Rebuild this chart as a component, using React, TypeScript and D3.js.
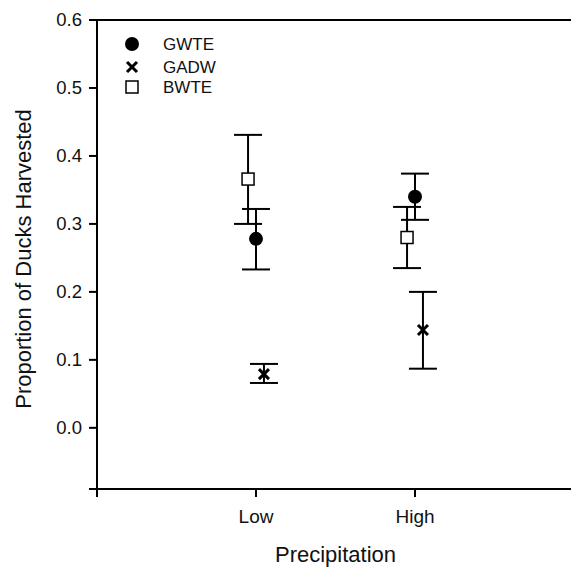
import React from "react";
import * as d3 from "d3";

const categories = ["Low", "High"];
const species = ["GWTE", "GADW", "BWTE"];
const gwteMean = [0.278, 0.340];
const gwteLower = [0.233, 0.306];
const gwteUpper = [0.322, 0.374];
const gadwMean = [0.079, 0.144];
const gadwLower = [0.066, 0.087];
const gadwUpper = [0.094, 0.200];
const bwteMean = [0.366, 0.280];
const bwteLower = [0.300, 0.235];
const bwteUpper = [0.431, 0.325];
const yTicks = [0.0, 0.1, 0.2, 0.3, 0.4, 0.5, 0.6];

const W = 571;
const H = 567;
const FONT = "'Liberation Sans', Arial, Helvetica, sans-serif";

export default function App() {
  const x = d3.scaleLinear().domain([0, 3]).range([97, 574]);
  const y = d3.scaleLinear().domain([-0.09, 0.6]).range([489, 20]);
  const fmt = d3.format(".1f");

  const series = [
    { name: "BWTE", offset: -0.05, mean: bwteMean, lo: bwteLower, hi: bwteUpper },
    { name: "GWTE", offset: 0, mean: gwteMean, lo: gwteLower, hi: gwteUpper },
    { name: "GADW", offset: 0.05, mean: gadwMean, lo: gadwLower, hi: gadwUpper },
  ];

  const capHalf = 14;

  const marker = (name: string, cx: number, cy: number, key: string) => {
    if (name === "GWTE") return <circle key={key} cx={cx} cy={cy} r={7} fill="#000" />;
    if (name === "GADW")
      return (
        <g key={key} stroke="#000" strokeWidth={3} strokeLinecap="butt">
          <line x1={cx - 5} y1={cy - 5} x2={cx + 5} y2={cy + 5} />
          <line x1={cx - 5} y1={cy + 5} x2={cx + 5} y2={cy - 5} />
        </g>
      );
    return <rect key={key} x={cx - 6} y={cy - 6} width={12} height={12} fill="#fff" stroke="#000" strokeWidth={1.5} />;
  };

  const x0 = x(0);
  const yBottom = y(-0.09);
  const yTop = y(0.6);

  return (
    <svg width={W} height={H} style={{ position: "absolute", left: 0, top: 0, background: "#fff" }} fontFamily={FONT}>
      <rect x={0} y={0} width={W} height={H} fill="#fff" />
      {/* axes */}
      <line x1={x0} y1={yTop - 1} x2={x0} y2={yBottom + 8} stroke="#000" strokeWidth={2} />
      <line x1={x0 - 8} y1={yBottom} x2={W} y2={yBottom} stroke="#000" strokeWidth={2} />
      <line x1={x0 - 8} y1={yTop} x2={W} y2={yTop} stroke="#000" strokeWidth={2} />
      {yTicks.map((t) => (
        <g key={"yt" + t}>
          <line x1={x0 - 8} y1={y(t)} x2={x0} y2={y(t)} stroke="#000" strokeWidth={2} />
          <text x={82} y={y(t)} dy="0.35em" textAnchor="end" fontSize={18.5} fill="#111">
            {fmt(t)}
          </text>
        </g>
      ))}
      {categories.map((c, i) => (
        <g key={"xt" + c}>
          <line x1={x(i + 1)} y1={yBottom} x2={x(i + 1)} y2={yBottom + 8} stroke="#000" strokeWidth={2} />
          <text x={x(i + 1)} y={523} textAnchor="middle" fontSize={19} fill="#111">
            {c}
          </text>
        </g>
      ))}
      <text x={(x0 + x(3)) / 2} y={562} textAnchor="middle" fontSize={22} fill="#111">
        Precipitation
      </text>
      <text transform={`translate(31,259) rotate(-90)`} textAnchor="middle" fontSize={22} fill="#111">
        Proportion of Ducks Harvested
      </text>

      {/* error bars */}
      {series.map((s) =>
        categories.map((c, i) => {
          const cx = x(i + 1 + s.offset);
          return (
            <g key={"eb" + s.name + c} stroke="#000" strokeWidth={2}>
              <line x1={cx} y1={y(s.lo[i])} x2={cx} y2={y(s.hi[i])} />
              <line x1={cx - capHalf} y1={y(s.lo[i])} x2={cx + capHalf} y2={y(s.lo[i])} />
              <line x1={cx - capHalf} y1={y(s.hi[i])} x2={cx + capHalf} y2={y(s.hi[i])} />
            </g>
          );
        })
      )}
      {/* markers */}
      {series.map((s) => categories.map((c, i) => marker(s.name, x(i + 1 + s.offset), y(s.mean[i]), "m" + s.name + c)))}

      {/* legend */}
      {species.map((sp, i) => {
        const ly = [44, 67, 87][i];
        return (
          <g key={"lg" + sp}>
            {marker(sp, 132, ly, "lm" + sp)}
            <text x={163} y={ly} dy="0.36em" fontSize={17} fill="#111">
              {sp}
            </text>
          </g>
        );
      })}
    </svg>
  );
}
